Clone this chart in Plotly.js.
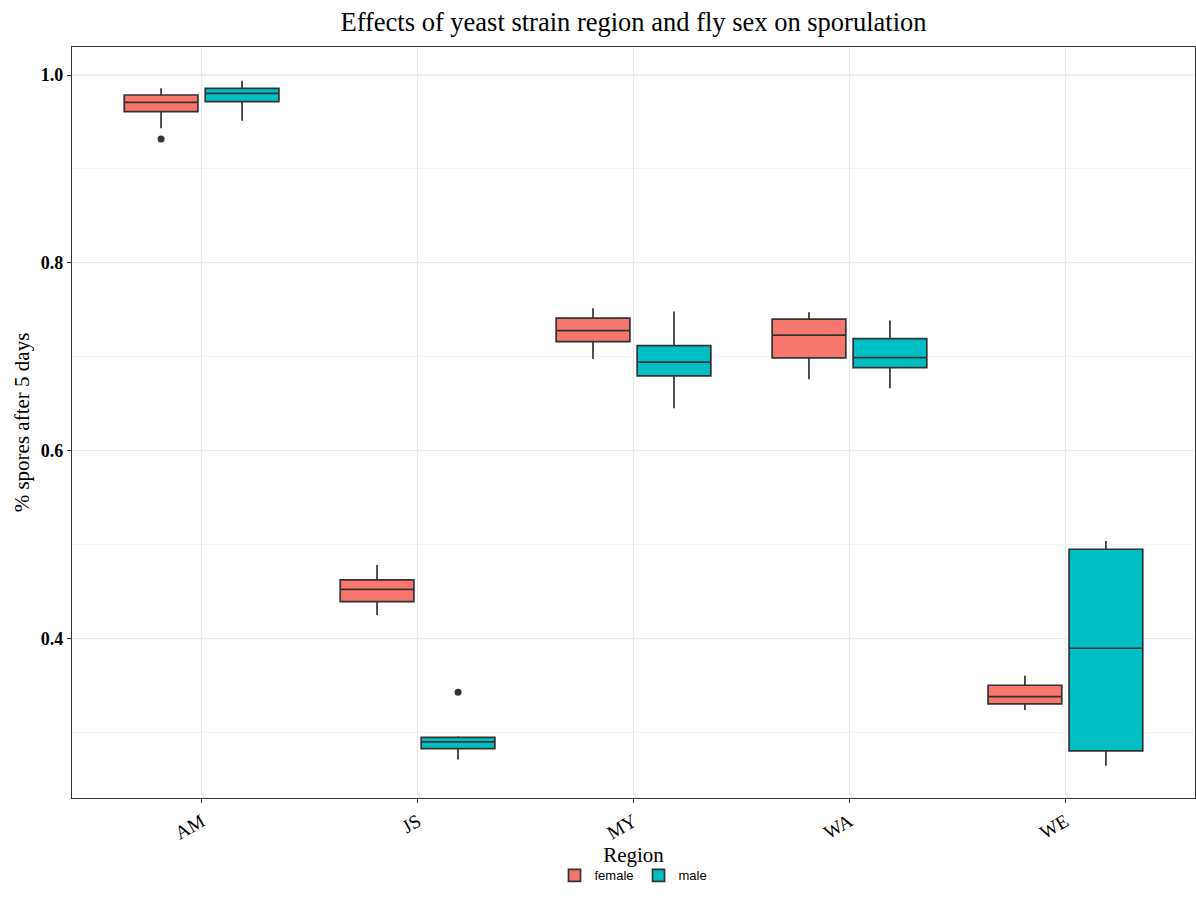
<!DOCTYPE html>
<html>
<head>
<meta charset="utf-8">
<script src="https://cdn.plot.ly/plotly-3.0.1.min.js"></script>
<style>html,body{margin:0;padding:0;background:#fff;}#chart{width:1196px;height:913px;}</style>
</head>
<body>
<div id="chart"></div>
<script>
// Categories
const regions = ["AM", "JS", "MY", "WA", "WE"];

// female box statistics
const femaleLower  = [0.9433, 0.4252, 0.6978, 0.6762, 0.3241];
const femaleQ1     = [0.9610, 0.4394, 0.7162, 0.6989, 0.3305];
const femaleMedian = [0.9709, 0.4525, 0.7280, 0.7230, 0.3383];
const femaleQ3     = [0.9787, 0.4625, 0.7411, 0.7401, 0.3504];
const femaleUpper  = [0.9858, 0.4784, 0.7517, 0.7475, 0.3606];

// male box statistics
const maleLower  = [0.9514, 0.2713, 0.6453, 0.6666, 0.2648];
const maleQ1     = [0.9716, 0.2830, 0.6797, 0.6885, 0.2805];
const maleMedian = [0.9805, 0.2901, 0.6943, 0.6992, 0.3898];
const maleQ3     = [0.9858, 0.2950, 0.7120, 0.7194, 0.4952];
const maleUpper  = [0.9940, 0.2960, 0.7482, 0.7386, 0.5040];

// outliers
const femaleOutlierX = ["AM"];
const femaleOutlierY = [0.9319];
const maleOutlierX = ["JS"];
const maleOutlierY = [0.3429];

const femaleColor = "#F8766D";
const maleColor = "#00BFC4";
const edge = "#333333";
const serif = "Liberation Serif, Times New Roman, serif";

const traces = [
  {
    type: "box", name: "female", x: regions,
    q1: femaleQ1, median: femaleMedian, q3: femaleQ3,
    lowerfence: femaleLower, upperfence: femaleUpper,
    fillcolor: femaleColor, line: {color: edge, width: 1.7},
    whiskerwidth: 0,
    boxpoints: false, offsetgroup: "female"
  },
  {
    type: "box", name: "male", x: regions,
    q1: maleQ1, median: maleMedian, q3: maleQ3,
    lowerfence: maleLower, upperfence: maleUpper,
    fillcolor: maleColor, line: {color: edge, width: 1.7},
    whiskerwidth: 0,
    boxpoints: false, offsetgroup: "male"
  },
  {
    type: "scatter", mode: "markers", x: femaleOutlierX, y: femaleOutlierY,
    marker: {color: edge, size: 7}, showlegend: false, offsetgroup: "female", hoverinfo: "y"
  },
  {
    type: "scatter", mode: "markers", x: maleOutlierX, y: maleOutlierY,
    marker: {color: edge, size: 7}, showlegend: false, offsetgroup: "male", hoverinfo: "y"
  }
];

const layout = {
  width: 1196, height: 913,
  paper_bgcolor: "#ffffff", plot_bgcolor: "#ffffff",
  margin: {l: 72, r: 1, t: 47, b: 115},
  boxmode: "group", boxgap: 0.25, boxgroupgap: 0.09,
  scattermode: "group", scattergap: 0.25,
  title: {
    text: "Effects of yeast strain region and fly sex on sporulation",
    font: {family: serif, size: 26.5, color: "#000"},
    x: 0.5, xref: "paper", xanchor: "center",
    y: 1 - 22/913, yref: "container", yanchor: "middle"
  },
  xaxis: {
    type: "category", categoryorder: "array", categoryarray: regions,
    range: [-0.6, 4.6],
    showgrid: true, gridcolor: "#EBEBEB", gridwidth: 1.2,
    showline: true, linecolor: "#333333", linewidth: 1.2, mirror: true,
    ticks: "outside", ticklen: 4, tickcolor: "#333333", tickwidth: 1,
    tickangle: -30,
    tickfont: {family: serif, size: 19, color: "#000"},
    title: {text: "Region", font: {family: serif, size: 21, color: "#000"}, standoff: 0},
    zeroline: false
  },
  yaxis: {
    range: [0.2304, 1.0298],
    tick0: 0, dtick: 0.2, tickformat: ".1f",
    showgrid: true, gridcolor: "#EBEBEB", gridwidth: 1.2,
    minor: {dtick: 0.1, tick0: 0, showgrid: true, gridcolor: "#F3F3F3", gridwidth: 0.8, ticks: ""},
    showline: true, linecolor: "#333333", linewidth: 1.2, mirror: true,
    ticks: "outside", ticklen: 4, tickcolor: "#333333", tickwidth: 1,
    tickfont: {family: serif, size: 18, color: "#000", weight: "bold"},
    title: {text: "% spores after 5 days", font: {family: serif, size: 21, color: "#000"}, standoff: 5},
    zeroline: false
  },
  showlegend: true,
  legend: {
    orientation: "h", x: 0.5, xanchor: "center", y: -0.103, yanchor: "middle",
    font: {family: "Liberation Sans, Arial, sans-serif", size: 13, color: "#000"},
    itemwidth: 30
  }
};

Plotly.newPlot("chart", traces, layout, {displayModeBar: false, staticPlot: true});
</script>
</body>
</html>
